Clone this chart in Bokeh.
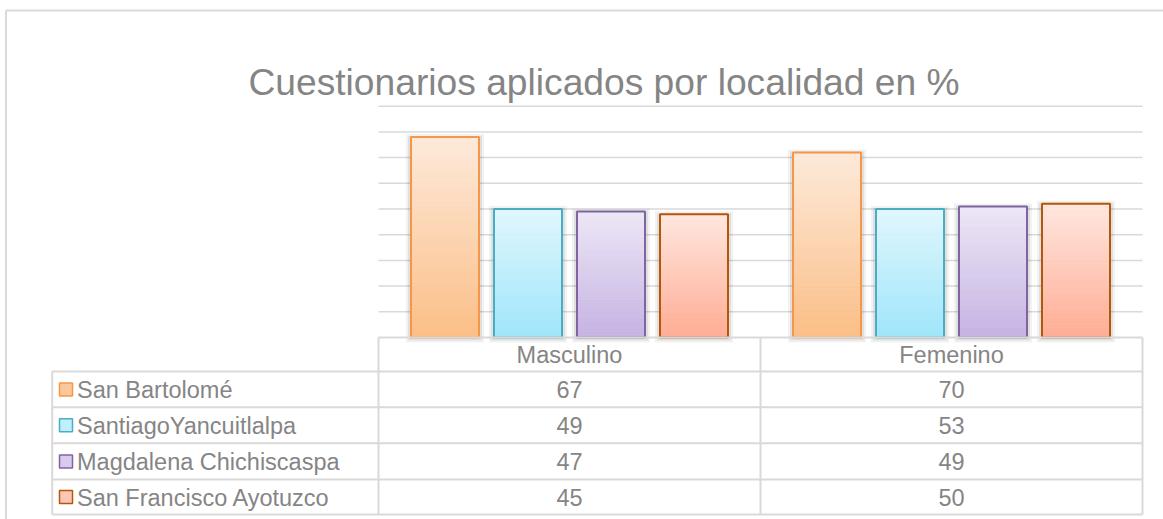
from bokeh.plotting import figure
from bokeh.models import Range1d
from bokeh.core.properties import value
from bokeh.embed import file_html
from bokeh.resources import INLINE

# ---------------- data ----------------
title_text = "Cuestionarios aplicados por localidad en %"
categories = ["Masculino", "Femenino"]
series = ["San Bartolomé", "SantiagoYancuitlalpa", "Magdalena Chichiscaspa", "San Francisco Ayotuzco"]
# values printed in the data table
table_masculino = [67, 49, 47, 45]
table_femenino = [70, 53, 49, 50]
# bar heights as drawn in the picture (gridline step = 10)
bar_masculino = [78, 50, 49, 48]
bar_femenino = [72, 50, 51, 52]
grid_ticks = [10, 20, 30, 40, 50, 60, 70, 80, 90]

# ---------------- styles ----------------
top_colors = [(253, 234, 218), (225, 247, 253), (237, 231, 246), (255, 231, 223)]
bottom_colors = [(252, 190, 134), (158, 230, 251), (198, 178, 227), (255, 172, 148)]
edge_colors = ["#f79646", "#4bacc6", "#8064a2", "#b65708"]
swatch_colors = ["#fcc79b", "#bfeffb", "#d8cbec", "#ffc7b6"]
TXT = "#858585"
LINE = "#d9d9d9"
FONT = value("Liberation Sans")

W, H = 1163, 519
PL = 0  # page offset of figure
# plot area geometry (page pixels)
PA_L, PA_R, BASE = 378.0, 1142.0, 337.0
PX_CAT = (PA_R - PA_L) / len(categories)
PX_UNIT = 2.57


def X(px):
    return (px - PA_L) / PX_CAT


def Y(py):
    return (BASE - py) / PX_UNIT


p = figure(width=W, height=H, output_backend="svg", toolbar_location=None,
           x_range=Range1d(X(PL), X(PL + W)), y_range=Range1d(Y(PL + H), Y(PL)),
           min_border=0, background_fill_color="white", border_fill_color="white")
p.axis.visible = False
p.grid.visible = False
p.outline_line_color = None

# outer chart frame (left & top edges visible)
p.segment(x0=[X(5.5), X(5.5)], y0=[Y(10), Y(10)], x1=[X(5.5), X(PL + W)], y1=[Y(PL + H), Y(10)],
          line_color=LINE, line_width=2)

# gridlines
p.segment(x0=[0] * len(grid_ticks), x1=[len(categories)] * len(grid_ticks), y0=grid_ticks, y1=grid_ticks,
          line_color=LINE, line_width=1.5)

# bars
STEP = 83.0 / PX_CAT
BW = 68.0 / PX_CAT
bars = [bar_masculino, bar_femenino]
N = 40
for ci, vals in enumerate(bars):
    for si, v in enumerate(vals):
        xc = ci + 0.5 + (si - (len(series) - 1) / 2) * STEP
        # soft shadow
        for extra, a in [(5, 0.05), (3, 0.07)]:
            p.quad(left=[xc - BW / 2 - extra / PX_CAT], right=[xc + BW / 2 + extra / PX_CAT],
                   bottom=[-extra / PX_UNIT], top=[v + (extra - 2) / PX_UNIT],
                   fill_color="black", fill_alpha=a, line_color=None)
        lefts, rights, bots, tops, cols = [], [], [], [], []
        tc, bc = top_colors[si], bottom_colors[si]
        for k in range(N):
            t = (k + 0.5) / N
            col = tuple(int(round(bc[j] + (tc[j] - bc[j]) * t)) for j in range(3))
            lefts.append(xc - BW / 2)
            rights.append(xc + BW / 2)
            bots.append(v * k / N)
            tops.append(v * (k + 1) / N)
            cols.append("#%02x%02x%02x" % col)
        p.quad(left=lefts, right=rights, bottom=bots, top=tops, fill_color=cols,
               line_color=cols, line_width=0.6)
        p.quad(left=[xc - BW / 2], right=[xc + BW / 2], bottom=[0], top=[v],
               fill_color=None, line_color=edge_colors[si], line_width=2)

# title
p.text(x=[X(603.5)], y=[Y(81.5)], text=[title_text], text_font=FONT, text_font_size="37.2px",
       text_color=TXT, text_align="center", text_baseline="alphabetic")

# data table
T_L = 51.7
HDR_TOP = BASE
row_lines = [371.0, 406.8, 442.8, 479.0, 514.0]
col_lines = [PA_L, (PA_L + PA_R) / 2, PA_R]
# horizontal lines
p.segment(x0=[X(PA_L)], x1=[X(PA_R)], y0=[Y(HDR_TOP)], y1=[Y(HDR_TOP)], line_color=LINE, line_width=2)
p.segment(x0=[X(T_L)] * len(row_lines), x1=[X(PA_R)] * len(row_lines),
          y0=[Y(r) for r in row_lines], y1=[Y(r) for r in row_lines], line_color=LINE, line_width=2)
# vertical lines
p.segment(x0=[X(c) for c in col_lines], x1=[X(c) for c in col_lines],
          y0=[Y(HDR_TOP)] * 3, y1=[Y(row_lines[-1])] * 3, line_color=LINE, line_width=2)
p.segment(x0=[X(T_L)], x1=[X(T_L)], y0=[Y(row_lines[0])], y1=[Y(row_lines[-1])], line_color=LINE, line_width=2)

# header labels
p.text(x=[ci + 0.5 for ci in range(len(categories))], y=[Y((HDR_TOP + row_lines[0]) / 2)] * len(categories),
       text=categories, text_font=FONT, text_font_size="23.5px", text_color=TXT,
       text_align="center", text_baseline="middle")

row_centers = [(row_lines[i] + row_lines[i + 1]) / 2 for i in range(len(series))]
# values
for ci, vals in enumerate([table_masculino, table_femenino]):
    p.text(x=[ci + 0.5] * len(vals), y=[Y(rc + 0.5) for rc in row_centers], text=[str(v) for v in vals],
           text_font=FONT, text_font_size="23.5px", text_color=TXT, text_align="center", text_baseline="middle")

# legend keys and names
SW = 13.0
p.quad(left=[X(59)] * len(series), right=[X(59 + SW)] * len(series),
       bottom=[Y(rc + SW / 2) for rc in row_centers], top=[Y(rc - SW / 2) for rc in row_centers],
       fill_color=swatch_colors, line_color=edge_colors, line_width=1.5)
p.text(x=[X(76.5)] * len(series), y=[Y(rc + 0.5) for rc in row_centers], text=series,
       text_font=FONT, text_font_size="23.5px", text_color=TXT, text_align="left", text_baseline="middle")

open("out.html", "w").write(file_html(p, INLINE))
